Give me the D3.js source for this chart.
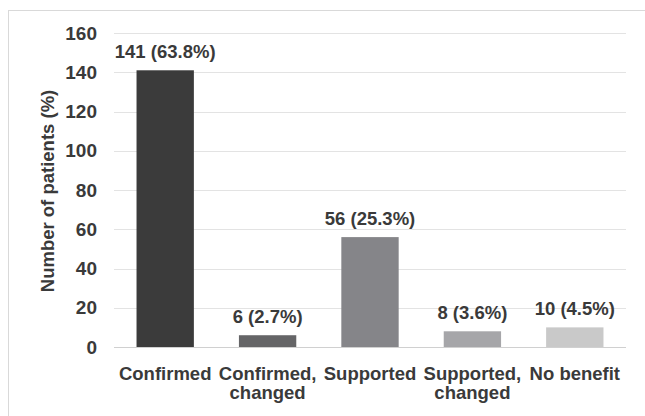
<!DOCTYPE html>
<html>
<head>
<meta charset="utf-8">
<script src="https://cdn.jsdelivr.net/npm/d3@7"></script>
<style>
  body { margin: 0; background: #fff; }
  text { font-family: "Liberation Sans", Arial, sans-serif; font-weight: bold; fill: #3a3a3a; }
</style>
</head>
<body>
<div id="chart"></div>
<script>
/* Chart data. */
const categories = [['Confirmed'], ['Confirmed,', 'changed'], ['Supported'], ['Supported,', 'changed'], ['No benefit']];
const counts = [141, 6, 56, 8, 10];
const percents = ['63.8%', '2.7%', '25.3%', '3.6%', '4.5%'];
const barColors = ['#3b3b3b', '#656567', '#858589', '#a6a6a9', '#c9c9c9'];
const yTicks = [0, 20, 40, 60, 80, 100, 120, 140, 160];

const W = 645, H = 416;
const margin = {top: 33, right: 19, bottom: 69, left: 114};
const width = W - margin.left - margin.right;
const height = H - margin.top - margin.bottom;

const svg = d3.select('#chart').append('svg')
    .attr('width', W)
    .attr('height', H);

// Outer chart frame.
svg.append('rect')
    .attr('x', 8.5).attr('y', 10.5)
    .attr('width', W).attr('height', H)
    .attr('fill', 'none').attr('stroke', '#d9d9d9');

const g = svg.append('g')
    .attr('transform', 'translate(' + margin.left + ',' + margin.top + ')');

const x = d3.scaleBand().domain(d3.range(counts.length)).range([0, width]).paddingInner(0.44).paddingOuter(0.22);
const y = d3.scaleLinear().domain([0, 160]).range([height, 0]);

// Gridlines.
g.selectAll('line.grid')
    .data(yTicks)
    .enter()
    .append('line')
    .attr('class', 'grid')
    .attr('x1', 0).attr('x2', width)
    .attr('y1', d => Math.round(y(d)) + 0.5)
    .attr('y2', d => Math.round(y(d)) + 0.5)
    .attr('stroke', d => d === 0 ? '#d0d0d0' : '#e3e3e3')
    .attr('stroke-width', 1);

// Y tick labels.
const yAxis = g.append('g').call(d3.axisLeft(y).tickValues(yTicks).tickSize(0).tickPadding(17));
yAxis.select('.domain').remove();
yAxis.selectAll('text')
    .attr('font-size', 19)
    .attr('fill', '#3a3a3a')
    .style('font-family', '"Liberation Sans", Arial, sans-serif')
    .style('font-weight', 'bold');

// Bars.
g.selectAll('rect.bar')
    .data(counts)
    .enter()
    .append('rect')
    .attr('class', 'bar')
    .attr('x', (d, i) => x(i))
    .attr('y', d => y(d))
    .attr('width', x.bandwidth())
    .attr('height', d => height - y(d))
    .attr('fill', (d, i) => barColors[i]);

// Value labels.
g.selectAll('text.value')
    .data(counts)
    .enter()
    .append('text')
    .attr('class', 'value')
    .attr('x', (d, i) => x(i) + x.bandwidth() / 2)
    .attr('y', d => y(d) - 12)
    .attr('text-anchor', 'middle')
    .attr('font-size', 18.5)
    .text((d, i) => d + ' (' + percents[i] + ')');

// Category labels.
const cat = g.selectAll('text.cat')
    .data(categories)
    .enter()
    .append('text')
    .attr('class', 'cat')
    .attr('text-anchor', 'middle')
    .attr('font-size', 18.5)
    .attr('transform', (d, i) => 'translate(' + (x(i) + x.bandwidth() / 2) + ',' + (height + 33) + ')');
cat.selectAll('tspan')
    .data(d => d)
    .enter()
    .append('tspan')
    .attr('x', 0)
    .attr('dy', (d, i) => i === 0 ? 0 : 19)
    .text(d => d);

// Y axis title.
svg.append('text')
    .attr('transform', 'translate(54,' + (margin.top + height / 2 + 1) + ') rotate(-90)')
    .attr('text-anchor', 'middle')
    .attr('font-size', 18.5)
    .text('Number of patients (%)');
</script>
</body>
</html>
